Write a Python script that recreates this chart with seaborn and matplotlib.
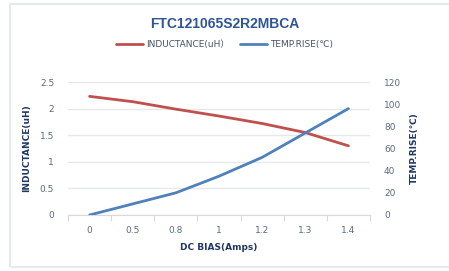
import numpy as np
import pandas as pd
import seaborn as sns
import matplotlib.pyplot as plt
from matplotlib.patches import Rectangle

# values
dc_bias = ['0', '0.5', '0.8', '1', '1.2', '1.3', '1.4']
inductance = [2.23, 2.13, 1.99, 1.86, 1.72, 1.55, 1.30]
temp_rise = [0, 10, 20, 35, 52, 74, 96]

df = pd.DataFrame({'pos': range(len(dc_bias)), 'L': inductance, 'T': temp_rise})

sns.set_style('white')
plt.rcParams['font.family'] = ['DejaVu Sans', 'Noto Sans CJK SC']

red = '#C0504D'
blue = '#4F81BD'
tick_col = '#44546A'
label_col = '#1F3864'

fig = plt.figure(figsize=(4.49, 2.71), dpi=100)
ax = fig.add_axes([68 / 449, 56 / 271, (370 - 68) / 449, (215 - 82) / 271])
ax2 = ax.twinx()

# faint outer frame
fig.patches.append(Rectangle((10 / 449, 4 / 271), 0.985, 0.97, transform=fig.transFigure,
                             fill=False, edgecolor='#E4EAEE', linewidth=1.5))

sns.lineplot(data=df, x='pos', y='L', ax=ax, color=red, linewidth=2)
sns.lineplot(data=df, x='pos', y='T', ax=ax2, color=blue, linewidth=2)

ax.set_xlim(-0.5, len(dc_bias) - 0.5)
ax.set_ylim(0, 2.5)
ax2.set_ylim(0, 120)
ax.set_yticks([0, 0.5, 1, 1.5, 2, 2.5])
ax.set_yticklabels(['0', '0.5', '1', '1.5', '2', '2.5'])
ax2.set_yticks(range(0, 121, 20))
ax.set_xticks(range(len(dc_bias)))
ax.set_xticklabels(dc_bias)
ax.set_xticks(np.arange(-0.5, len(dc_bias)), minor=True)

ax.yaxis.grid(True, color='#E6E9EC', linewidth=1)
for s in ['top', 'right', 'left']:
    ax.spines[s].set_visible(False)
    ax2.spines[s].set_visible(False)
ax2.spines['bottom'].set_visible(False)
ax.spines['bottom'].set_color('#D9D9D9')

ax.tick_params(axis='x', colors='#5A6B80', labelsize=6.5, length=0, pad=8)
ax.tick_params(axis='x', which='minor', direction='out', length=4, width=0.8,
               color='#D9D9D9', bottom=True)
ax.tick_params(axis='y', colors='#5A6B80', labelsize=6.5, length=0, pad=10)
ax2.tick_params(axis='y', colors='#5A6B80', labelsize=6.5, length=0, pad=10)

ax.set_xlabel('DC BIAS(Amps)', fontsize=6.5, fontweight='bold', color=label_col, labelpad=6)
ax.set_ylabel('INDUCTANCE(uH)', fontsize=6.5, fontweight='bold', color=label_col, labelpad=6)
ax2.set_ylabel('TEMP.RISE(\u2103)', fontsize=6.5, fontweight='bold', color=label_col, labelpad=6)

fig.text(0.5, 0.91, 'FTC121065S2R2MBCA', ha='center', va='center', fontsize=10,
         fontweight='bold', color='#2F5597',
         family=['Liberation Sans', 'DejaVu Sans'])

handles = [plt.Line2D([], [], color=red, linewidth=2),
           plt.Line2D([], [], color=blue, linewidth=2)]
fig.legend(handles, ['INDUCTANCE(uH\uff09', 'TEMP.RISE(\u2103)'], loc='center',
           bbox_to_anchor=(0.5, 0.835), ncol=2, frameon=False, fontsize=6.5,
           labelcolor=tick_col, handlelength=3, columnspacing=1.2, handletextpad=0.3)

fig.savefig('out.png', dpi=100)
